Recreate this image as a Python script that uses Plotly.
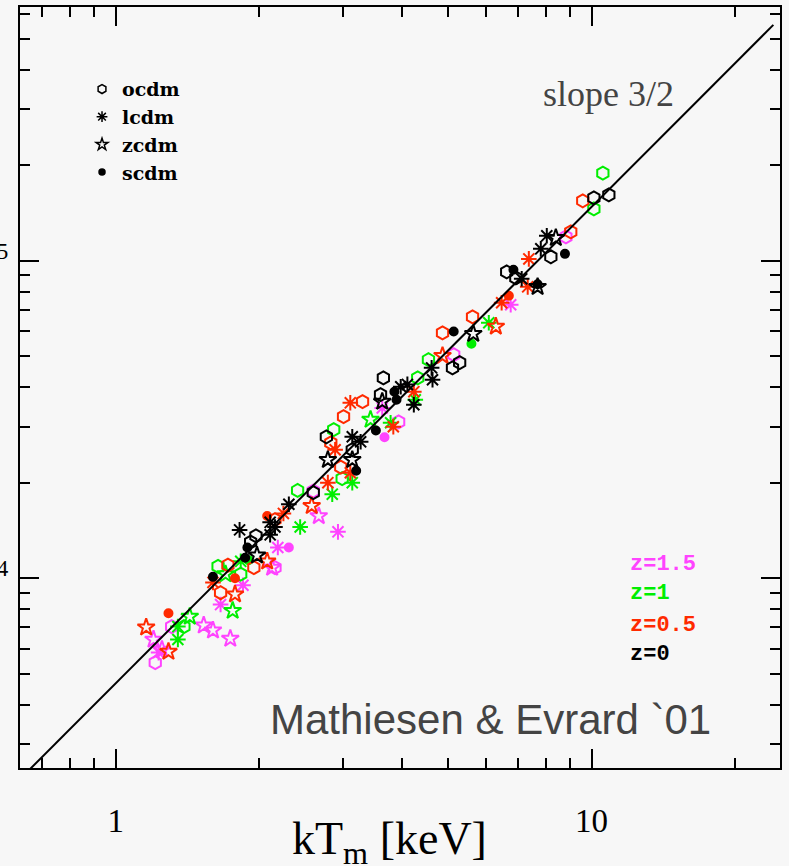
import plotly.graph_objects as go
import numpy as np

# ---------------- data (kT in keV, mass in 1e14 Msun, redshift) ----------------
ocdm_kt = [10.87, 10.11, 8.21, 6.63, 6.93, 5.28, 5.10, 3.65, 3.60, 2.77, 3.14, 2.60, 1.97, 1.92,
           9.58, 9.04, 5.62, 4.86, 3.30, 3.01, 2.83, 2.97, 1.72, 1.95, 1.66, 2.16,
           10.56, 10.11, 4.54, 4.31, 2.87, 2.99, 2.41, 1.64, 1.83, 1.39,
           8.83, 5.13, 3.93, 2.60, 1.21, 1.31, 2.16]
ocdm_m14 = [16.13, 15.79, 10.30, 9.23, 8.84, 4.78, 4.60, 4.28, 3.79, 2.79, 2.54, 1.86, 1.36, 1.30,
            15.46, 12.34, 6.66, 5.93, 3.60, 3.23, 2.67, 2.24, 1.10, 1.08, 0.90, 1.53,
            18.9, 14.58, 4.88, 4.28, 2.94, 2.06, 1.89, 1.09, 1.03, 0.704,
            11.90, 5.06, 3.11, 1.88, 0.542, 0.704, 1.08]
ocdm_z = [0]*14 + [0.5]*12 + [1]*10 + [1.5]*7

lcdm_kt = [8.05, 7.82, 7.13, 4.61, 4.63, 3.97, 4.10, 4.23, 3.14, 3.27, 2.31, 2.11, 2.16, 1.82, 2.11,
           7.38, 7.34, 6.47, 4.23, 3.11, 3.83, 2.89, 3.11, 2.79, 2.25, 1.60,
           6.08, 3.78, 4.26, 3.14, 2.85, 2.44, 1.35, 1.35, 1.83,
           6.76, 3.63, 2.93, 2.19, 1.66, 1.85, 1.23]
lcdm_m14 = [11.99, 10.91, 8.78, 4.60, 4.22, 4.01, 4.08, 3.52, 2.79, 2.69, 1.71, 1.50, 1.45, 1.42, 1.37,
            10.14, 8.28, 7.38, 3.87, 3.57, 3.00, 2.54, 2.15, 2.00, 1.60, 0.97,
            6.38, 3.09, 3.65, 2.00, 1.84, 1.45, 0.704, 0.641, 1.13,
            7.27, 3.44, 1.40, 1.25, 0.826, 0.95, 0.583]
lcdm_z = [0]*15 + [0.5]*11 + [1]*9 + [1.5]*7

zcdm_kt = [8.41, 7.70, 5.64, 3.63, 2.79, 3.14, 1.98,
           6.29, 4.86, 2.58, 2.08, 1.78, 1.158, 1.29,
           3.43, 1.43, 1.76, 1.70,
           2.67, 2.13, 1.53, 1.60, 1.74, 1.20, 1.25]
zcdm_m14 = [11.81, 8.28, 5.89, 3.60, 2.36, 2.36, 1.18,
            6.21, 5.02, 1.69, 1.13, 0.89, 0.70, 0.587,
            3.16, 0.757, 0.79, 1.03,
            1.57, 1.08, 0.71, 0.685, 0.645, 0.641, 0.596]
zcdm_z = [0]*7 + [0.5]*7 + [1]*4 + [1.5]*7

scdm_kt = [8.79, 7.70, 6.85, 5.13, 3.85, 3.89, 3.52, 3.20, 1.60, 1.87, 1.89,
           6.70, 2.08, 1.29, 1.78,
           5.59, 1.90,
           3.67, 2.31]
scdm_m14 = [10.52, 8.44, 9.37, 5.99, 3.87, 3.65, 2.92, 2.18, 1.01, 1.16, 1.25,
            7.76, 1.57, 0.776, 1.00,
            5.48, 1.14,
            2.78, 1.25]
scdm_z = [0]*11 + [0.5]*4 + [1]*2 + [1.5]*2

slope_kt = [0.60, 24.1]
slope_m14 = [0.217, 55.4]

models = ["ocdm", "lcdm", "zcdm", "scdm"]
model_kt = [ocdm_kt, lcdm_kt, zcdm_kt, scdm_kt]
model_m14 = [ocdm_m14, lcdm_m14, zcdm_m14, scdm_m14]
model_z = [ocdm_z, lcdm_z, zcdm_z, scdm_z]
redshifts = [1.5, 1, 0.5, 0]
z_labels = ["z=1.5", "z=1", "z=0.5", "z=0"]

# ---------------- styles ----------------
z_colors = {1.5: "#ff44ff", 1: "#00ee00", 0.5: "#ff2a00", 0: "#000000"}
model_symbol = {"ocdm": "hexagon-open", "lcdm": "asterisk-open",
                "zcdm": "star-open", "scdm": "circle"}
model_size = {"ocdm": 13, "lcdm": 13, "zcdm": 13, "scdm": 8}

BG = "#f7f7f7"
fig = go.Figure()

for z in redshifts:
    for name, kt, m, zz in zip(models, model_kt, model_m14, model_z):
        mask = np.array(zz) == z
        if not mask.any():
            continue
        col = z_colors[z]
        fig.add_trace(go.Scatter(
            x=np.array(kt)[mask], y=np.array(m)[mask] * 1e14,
            mode="markers", showlegend=False, hoverinfo="skip",
            marker=dict(symbol=model_symbol[name], size=model_size[name],
                        color=col, line=dict(color=col, width=2)),
        ))

fig.add_trace(go.Scatter(x=slope_kt, y=np.array(slope_m14) * 1e14, mode="lines",
                         line=dict(color="black", width=2), showlegend=False,
                         hoverinfo="skip"))

# legend (symbol key)
for name in models:
    fig.add_trace(go.Scatter(
        x=[None], y=[None], mode="markers", name=name,
        marker=dict(symbol=model_symbol[name], size=9 if name != "scdm" else 6,
                    color="black", line=dict(color="black", width=1.5)),
    ))

serif = "Liberation Serif"
axis_common = dict(
    type="log", showgrid=False, zeroline=False, automargin=False,
    showline=True, linecolor="black", linewidth=2, mirror="allticks",
    ticks="inside", ticklen=19, tickwidth=2, tickcolor="black",
    tickfont=dict(family=serif, size=33, color="black"),
)

fig.update_xaxes(**axis_common, range=[-0.2015, 1.396],
                 tickvals=[1, 10], ticktext=["1", "10"], ticklabelstandoff=22,
                 minor=dict(tickvals=[0.7, 0.8, 0.9, 2, 3, 4, 5, 6, 7, 8, 9, 20],
                            ticks="inside", ticklen=10, tickwidth=2,
                            tickcolor="black", showgrid=False))
fig.update_yaxes(**axis_common, range=[13.402, 15.7998],
                 tickvals=[1e14, 1e15], ticktext=["10<sup>14</sup>", "10<sup>15</sup>"],
                 ticklabelstandoff=3,
                 minor=dict(tickvals=[3e13, 4e13, 5e13, 6e13, 7e13, 8e13, 9e13,
                                      2e14, 3e14, 4e14, 5e14, 6e14, 7e14, 8e14, 9e14,
                                      2e15, 3e15, 4e15, 5e15, 6e15],
                            ticks="inside", ticklen=10, tickwidth=2,
                            tickcolor="black", showgrid=False))

annotations = [
    dict(text="slope 3/2", x=0.6855, y=0.8857, xanchor="left", yanchor="middle",
         font=dict(family=serif, size=36, color="#444444")),
    dict(text="Mathiesen & Evrard `01", x=0.6197, y=0.0631, xanchor="center",
         yanchor="middle", font=dict(family="Liberation Sans", size=42, color="#444444")),
    dict(text="kT<sub>m</sub> [keV]", x=0.4868, y=-0.097, xanchor="center",
         yanchor="middle", font=dict(family=serif, size=46, color="black")),
]
z_y = [0.2668, 0.2287, 0.1866, 0.1498]
for lab, z, yy in zip(z_labels, redshifts, z_y):
    annotations.append(dict(text="<b>" + lab + "</b>", x=0.8, y=yy, xanchor="left",
                            yanchor="middle",
                            font=dict(family="Liberation Mono", size=22, color=z_colors[z])))
for a in annotations:
    a.update(xref="paper", yref="paper", showarrow=False)

fig.update_layout(
    width=789, height=866,
    margin=dict(l=20, r=9, t=7, b=98),
    paper_bgcolor=BG, plot_bgcolor=BG,
    annotations=annotations,
    legend=dict(x=0.0816, y=0.917, xanchor="left", yanchor="top",
                bgcolor="rgba(0,0,0,0)", tracegroupgap=0, itemwidth=30,
                font=dict(family="DejaVu Serif", size=19, color="black", weight="bold")),
)

fig.write_html("out.html")
